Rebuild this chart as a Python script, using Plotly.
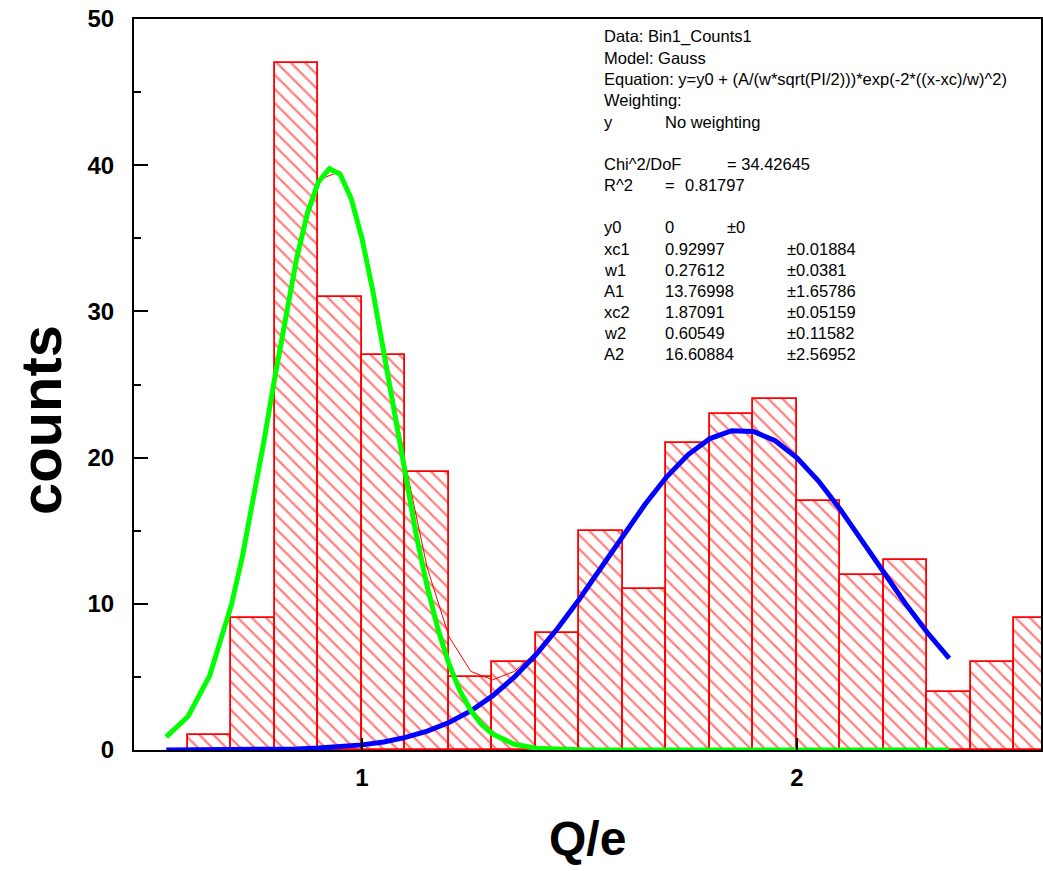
import plotly.graph_objects as go

# ---------------- data ----------------
bin_centers = [0.65, 0.75, 0.85, 0.95, 1.05, 1.15, 1.25, 1.35, 1.45, 1.55,
               1.65, 1.75, 1.85, 1.95, 2.05, 2.15, 2.25, 2.35, 2.45, 2.55]
bin_counts = [1, 9, 47, 31, 27, 19, 5, 6, 8, 15,
              11, 21, 23, 24, 17, 12, 13, 4, 6, 9]
bin_width = 0.1

# fitted peak 1 (green)
peak1_x = [0.55, 0.60, 0.65, 0.70, 0.725, 0.75, 0.775, 0.80, 0.825, 0.85, 0.875,
           0.90, 0.925, 0.95, 0.975, 1.00, 1.025, 1.05, 1.075, 1.10, 1.125,
           1.15, 1.175, 1.20, 1.225, 1.25, 1.275, 1.30, 1.35, 1.40, 1.45,
           1.50, 1.55, 1.60, 1.65, 1.70, 1.75, 1.80, 1.85, 1.90, 1.95, 2.00,
           2.05, 2.10, 2.15, 2.20, 2.25, 2.30, 2.35]
peak1_y = [0.90, 2.29, 5.09, 9.94, 13.22, 17.01, 21.19, 25.55, 29.80, 33.65, 36.76,
           38.86, 39.76, 39.37, 37.73, 34.99, 31.40, 27.27, 22.92, 18.64, 14.67,
           11.17, 8.24, 5.88, 4.06, 2.71, 1.75, 1.10, 0.39, 0.12, 0.03,
           0.01, 0, 0, 0, 0, 0, 0, 0, 0, 0, 0,
           0, 0, 0, 0, 0, 0, 0]

# fitted peak 2 (blue)
peak2_x = [0.55, 0.60, 0.65, 0.70, 0.75, 0.80, 0.85, 0.90, 0.95, 1.00,
           1.05, 1.10, 1.15, 1.20, 1.25, 1.30, 1.35, 1.40, 1.45, 1.50,
           1.55, 1.60, 1.65, 1.70, 1.75, 1.80, 1.85, 1.90, 1.95, 2.00,
           2.05, 2.10, 2.15, 2.20, 2.25, 2.30, 2.35]
peak2_y = [0.00, 0.00, 0.01, 0.01, 0.02, 0.04, 0.07, 0.13, 0.21, 0.35,
           0.55, 0.86, 1.29, 1.88, 2.67, 3.70, 4.98, 6.53, 8.33, 10.33,
           12.48, 14.67, 16.77, 18.67, 20.21, 21.30, 21.84, 21.79, 21.15, 19.99,
           18.38, 16.44, 14.31, 12.12, 9.99, 8.02, 6.26]

# cumulative fit (thin red) = peak1 + peak2 on the peak2 grid
p1_lookup = {round(x, 3): y for x, y in zip(peak1_x, peak1_y)}
sum_y = [p1_lookup[round(x, 3)] + y for x, y in zip(peak2_x, peak2_y)]

x_tick_vals = [1, 2]
y_tick_vals = [0, 10, 20, 30, 40, 50]

info_lines = [
    # (text, column pixel x, row pixel y)
    ("Data: Bin1_Counts1", 604, 37),
    ("Model: Gauss", 604, 58),
    ("Equation: y=y0 + (A/(w*sqrt(PI/2)))*exp(-2*((x-xc)/w)^2)", 604, 79.5),
    ("Weighting:", 604, 100.5),
    ("y", 604, 121.5), ("No weighting", 665, 121.5),
    ("Chi^2/DoF", 604, 163.5), ("= 34.42645", 727, 163.5),
    ("R^2", 604, 184.5), ("=", 665, 184.5), ("0.81797", 685, 184.5),
    ("y0", 604, 227), ("0", 665, 227), ("±0", 727, 227),
    ("xc1", 604, 248.5), ("0.92997", 665, 248.5), ("±0.01884", 787, 248.5),
    ("w1", 604, 269.5), ("0.27612", 665, 269.5), ("±0.0381", 787, 269.5),
    ("A1", 604, 291), ("13.76998", 665, 291), ("±1.65786", 787, 291),
    ("xc2", 604, 312), ("1.87091", 665, 312), ("±0.05159", 787, 312),
    ("w2", 604, 333), ("0.60549", 665, 333), ("±0.11582", 787, 333),
    ("A2", 604, 354), ("16.60884", 665, 354), ("±2.56952", 787, 354),
]

# ---------------- layout geometry ----------------
W, H = 1043, 871
L, R, T, B = 134, 2, 19, 121
PW, PH = W - L - R, H - T - B

def px2paper(px, py):
    return (px - L) / PW, (H - B - py) / PH

FONT = "Liberation Sans, Arial, Helvetica, sans-serif"

fig = go.Figure()

fig.add_trace(go.Bar(
    x=bin_centers, y=bin_counts, width=bin_width,
    marker=dict(
        color="white",
        line=dict(color="#ff0000", width=1.8),
        pattern=dict(shape="\\", fgcolor="#ff0000", bgcolor="white",
                     size=10, solidity=0.22),
    ),
    showlegend=False,
))

fig.add_trace(go.Scatter(
    x=peak2_x, y=sum_y, mode="lines",
    line=dict(color="#ff0000", width=1), showlegend=False,
))
fig.add_trace(go.Scatter(
    x=peak2_x, y=peak2_y, mode="lines",
    line=dict(color="#0000ff", width=5), showlegend=False,
))
fig.add_trace(go.Scatter(
    x=peak1_x, y=peak1_y, mode="lines",
    line=dict(color="#00ff00", width=5), showlegend=False,
))

annotations = []
for text, px, py in info_lines:
    ax, ay = px2paper(px - 2, py)
    annotations.append(dict(
        text=text, x=ax, y=ay, xref="paper", yref="paper",
        xanchor="left", yanchor="middle", showarrow=False,
        font=dict(family=FONT, size=16.5, color="black"),
    ))

tx, ty = px2paper(587, 838)
annotations.append(dict(
    text="Q/e", x=tx, y=ty, xref="paper", yref="paper",
    xanchor="center", yanchor="middle", showarrow=False,
    font=dict(family=FONT, size=48, color="black", weight="bold"),
))
cx, cy = px2paper(40, 420)
annotations.append(dict(
    text="counts", x=cx, y=cy, xref="paper", yref="paper",
    xanchor="center", yanchor="middle", showarrow=False, textangle=-90,
    font=dict(family=FONT, size=58, color="black", weight="bold"),
))

fig.update_layout(
    width=W, height=H,
    margin=dict(l=L, r=R, t=T, b=B, pad=0, autoexpand=False),
    paper_bgcolor="white", plot_bgcolor="white",
    bargap=0,
    annotations=annotations,
    font=dict(family=FONT, color="black"),
)

fig.update_xaxes(
    range=[0.4759, 2.561], automargin=False,
    tickvals=x_tick_vals, ticktext=[str(v) for v in x_tick_vals],
    ticks="inside", ticklen=12, tickwidth=2, tickcolor="black",
    showline=True, linecolor="black", linewidth=2, mirror=True,
    showgrid=False, zeroline=False,
    tickfont=dict(family=FONT, size=24, color="black", weight="bold"),
    ticklabelstandoff=5,
)
fig.update_yaxes(
    range=[0, 50], automargin=False,
    tickvals=y_tick_vals, ticktext=[str(v) for v in y_tick_vals],
    ticks="inside", ticklen=14, tickwidth=2, tickcolor="black",
    minor=dict(tickvals=[5, 15, 25, 35, 45], ticks="inside", ticklen=7,
               tickwidth=2, tickcolor="black", showgrid=False),
    showline=True, linecolor="black", linewidth=2, mirror=True,
    showgrid=False, zeroline=False,
    tickfont=dict(family=FONT, size=24, color="black", weight="bold"),
    ticklabelstandoff=13,
)

# remove the browser's default 8px body margin so the figure sits at (0, 0)
fig.write_html("out.html",
               config={"displayModeBar": False},
               post_script="document.body.style.margin='0';"
                           "document.body.style.overflow='hidden';")
